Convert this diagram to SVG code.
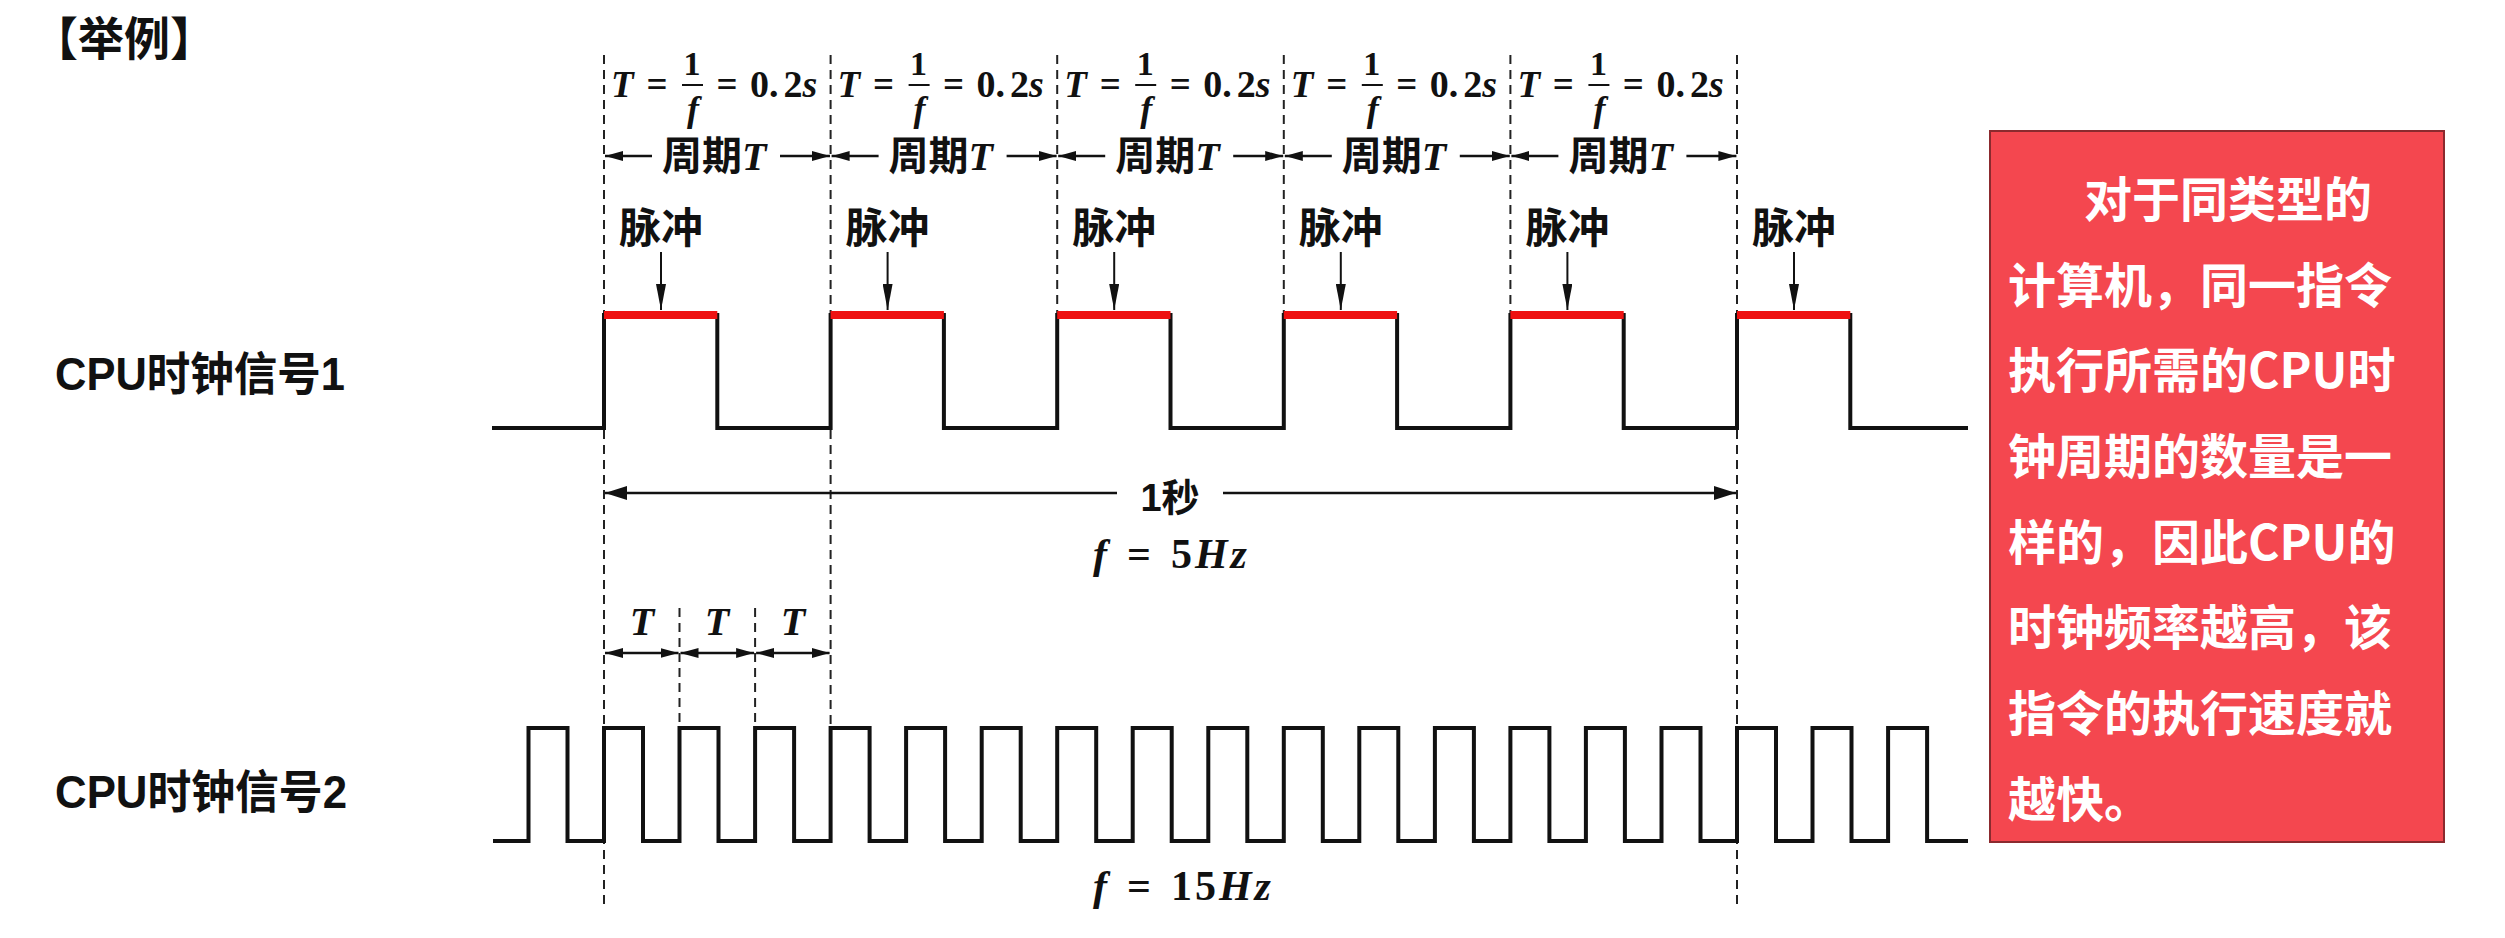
<svg xmlns="http://www.w3.org/2000/svg" width="2505" height="938" viewBox="0 0 2505 938">
<style>
.cjk{font-family:'Liberation Sans','Noto Sans CJK SC',sans-serif;font-weight:bold;fill:#111}
.math{font-family:'Liberation Serif','DejaVu Serif',serif;font-weight:bold;fill:#111}
.it{font-style:italic}
.sig{fill:none;stroke:#111;stroke-width:4;stroke-linejoin:miter}
.dash{stroke:#222;stroke-width:2;stroke-dasharray:9 6;fill:none}
.red{stroke:#EE1111;stroke-width:8;fill:none}
.arr{stroke:#111;stroke-width:2.5;fill:none}
.box{fill:#F4474F;stroke:#8B2A2E;stroke-width:2}
.boxt{font-family:'Noto Sans CJK SC',sans-serif;font-weight:bold;font-size:48px;fill:#fff}
</style>
<defs>
<marker id="ahS" viewBox="0 0 18 10" refX="18" refY="5" markerWidth="18" markerHeight="10" orient="auto-start-reverse" markerUnits="userSpaceOnUse"><path d="M0,0 L18,5 L0,10 z" fill="#111"/></marker>
<marker id="ahL" viewBox="0 0 22 14" refX="22" refY="7" markerWidth="22" markerHeight="14" orient="auto-start-reverse" markerUnits="userSpaceOnUse"><path d="M0,0 L22,7 L0,14 z" fill="#111"/></marker>
<marker id="ahP" viewBox="0 0 26 10" refX="26" refY="5" markerWidth="26" markerHeight="10" orient="auto" markerUnits="userSpaceOnUse"><path d="M0,0 L26,5 L0,10 z" fill="#111"/></marker>
<g id="formula">
<text class="math it" x="611" y="97" font-size="37">T</text>
<text class="math" x="657" y="97" font-size="37" text-anchor="middle">=</text>
<text class="math" x="692" y="75" font-size="34" text-anchor="middle">1</text>
<line x1="682" y1="85" x2="703" y2="85" stroke="#111" stroke-width="2"/>
<text class="math it" x="693" y="121" font-size="36" text-anchor="middle">f</text>
<text class="math" x="727" y="97" font-size="37" text-anchor="middle">=</text>
<text class="math" x="750" y="97" font-size="38">0.<tspan dx="5">2</tspan><tspan class="it">s</tspan></text>
</g>
<g id="period">
<line class="arr" x1="652" y1="156" x2="605" y2="156" marker-end="url(#ahS)"/>
<line class="arr" x1="780" y1="156" x2="830" y2="156" marker-end="url(#ahS)"/>
<text class="cjk" x="662" y="170" font-size="40">周期<tspan class="math it" font-size="40">T</tspan></text>
</g>
<g id="pulse">
<text class="cjk" x="661" y="243" font-size="42" text-anchor="middle">脉冲</text>
<line x1="661" y1="252" x2="661" y2="310" stroke="#111" stroke-width="2" marker-end="url(#ahP)"/>
</g>
</defs>

<g id="title"><text class="cjk" x="32" y="55" font-size="46">【举例】</text></g>

<g id="label1"><text class="cjk" x="55" y="390" font-size="46" textLength="290" lengthAdjust="spacingAndGlyphs">CPU时钟信号1</text></g>
<g id="label2"><text class="cjk" x="55" y="808" font-size="46" textLength="292" lengthAdjust="spacingAndGlyphs">CPU时钟信号2</text></g>

<g id="guides">
<line class="dash" x1="604" y1="55" x2="604" y2="910"/>
<line class="dash" x1="830.6" y1="55" x2="830.6" y2="727"/>
<line class="dash" x1="1057.2" y1="55" x2="1057.2" y2="428"/>
<line class="dash" x1="1283.8" y1="55" x2="1283.8" y2="428"/>
<line class="dash" x1="1510.4" y1="55" x2="1510.4" y2="428"/>
<line class="dash" x1="1737" y1="55" x2="1737" y2="910"/>
<line class="dash" x1="679.5" y1="608" x2="679.5" y2="727"/>
<line class="dash" x1="755.1" y1="608" x2="755.1" y2="727"/>
</g>

<g id="formulas">
<use href="#formula"/>
<use href="#formula" x="226.6"/>
<use href="#formula" x="453.2"/>
<use href="#formula" x="679.8"/>
<use href="#formula" x="906.4"/>
</g>

<g id="periods">
<use href="#period"/>
<use href="#period" x="226.6"/>
<use href="#period" x="453.2"/>
<use href="#period" x="679.8"/>
<use href="#period" x="906.4"/>
</g>

<g id="pulses">
<use href="#pulse"/>
<use href="#pulse" x="226.6"/>
<use href="#pulse" x="453.2"/>
<use href="#pulse" x="679.8"/>
<use href="#pulse" x="906.4"/>
<use href="#pulse" x="1133"/>
</g>

<g id="signal1">
<path class="sig" d="M492,428 H604 V315 H717.3 V428 H830.6 V315 H943.9 V428 H1057.2 V315 H1170.5 V428 H1283.8 V315 H1397.1 V428 H1510.4 V315 H1623.7 V428 H1737 V315 H1850.3 V428 H1968"/>
<g id="highlights">
<line class="red" x1="604" y1="315" x2="717.3" y2="315"/>
<line class="red" x1="830.6" y1="315" x2="943.9" y2="315"/>
<line class="red" x1="1057.2" y1="315" x2="1170.5" y2="315"/>
<line class="red" x1="1283.8" y1="315" x2="1397.1" y2="315"/>
<line class="red" x1="1510.4" y1="315" x2="1623.7" y2="315"/>
<line class="red" x1="1737" y1="315" x2="1850.3" y2="315"/>
</g>
</g>

<g id="signal2">
<path class="sig" d="M493,841 H528.5 V728 H567.5 V841 H604 V728 H643 V841 H679.5 V728 H718.5 V841 H755.1 V728 H794.1 V841 H830.6 V728 H869.6 V841 H906.1 V728 H945.1 V841 H981.7 V728 H1020.7 V841 H1057.2 V728 H1096.2 V841 H1132.7 V728 H1171.7 V841 H1208.3 V728 H1247.3 V841 H1283.8 V728 H1322.8 V841 H1359.3 V728 H1398.3 V841 H1434.9 V728 H1473.9 V841 H1510.4 V728 H1549.4 V841 H1585.9 V728 H1624.9 V841 H1661.5 V728 H1700.5 V841 H1737 V728 H1776 V841 H1812.5 V728 H1851.5 V841 H1888.1 V728 H1927.1 V841 H1968"/>
</g>

<g id="connectors">
<line class="arr" x1="1117" y1="493" x2="605" y2="493" marker-end="url(#ahL)"/>
<line class="arr" x1="1223" y1="493" x2="1736" y2="493" marker-end="url(#ahL)"/>
<line class="arr" x1="605" y1="653" x2="678.5" y2="653" marker-start="url(#ahS)" marker-end="url(#ahS)"/>
<line class="arr" x1="680.5" y1="653" x2="754.1" y2="653" marker-start="url(#ahS)" marker-end="url(#ahS)"/>
<line class="arr" x1="756.1" y1="653" x2="829.6" y2="653" marker-start="url(#ahS)" marker-end="url(#ahS)"/>
</g>

<g id="one-second">
<text class="cjk" x="1170" y="511" font-size="38" text-anchor="middle">1秒</text>
</g>
<g id="f5"><text class="math" x="1093" y="568" font-size="42"><tspan class="it">f</tspan><tspan dx="20">=</tspan><tspan dx="20" letter-spacing="3">5<tspan class="it">Hz</tspan></tspan></text></g>
<g id="f15"><text class="math" x="1093" y="900" font-size="42"><tspan class="it">f</tspan><tspan dx="20">=</tspan><tspan dx="20" letter-spacing="3">15<tspan class="it">Hz</tspan></tspan></text></g>

<g id="tlabels">
<text class="math it" x="642" y="635" font-size="40" text-anchor="middle">T</text>
<text class="math it" x="717" y="635" font-size="40" text-anchor="middle">T</text>
<text class="math it" x="793" y="635" font-size="40" text-anchor="middle">T</text>
</g>

<g id="note">
<rect class="box" x="1990" y="131" width="454" height="711"/>
<text class="boxt" x="2084" y="217">对于同类型的</text>
<text class="boxt" x="2008" y="303">计算机，同一指令</text>
<text class="boxt" x="2008" y="388">执行所需的CPU时</text>
<text class="boxt" x="2008" y="474">钟周期的数量是一</text>
<text class="boxt" x="2008" y="560">样的，因此CPU的</text>
<text class="boxt" x="2008" y="645">时钟频率越高，该</text>
<text class="boxt" x="2008" y="731">指令的执行速度就</text>
<text class="boxt" x="2008" y="817">越快。</text>
</g>
</svg>
